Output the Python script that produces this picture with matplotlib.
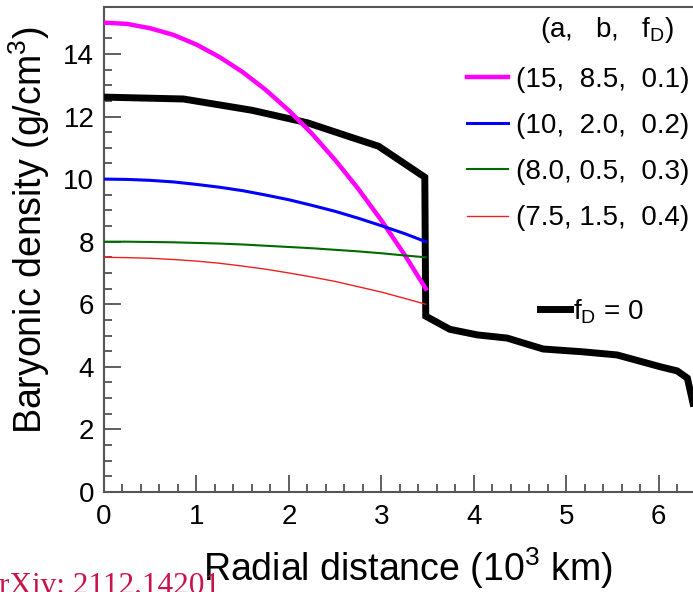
import matplotlib
matplotlib.use("Agg")
import matplotlib.pyplot as plt
from matplotlib.lines import Line2D
from matplotlib.ticker import MultipleLocator

plt.rcParams['font.family'] = ['Liberation Sans', 'DejaVu Sans']
plt.rcParams['mathtext.fontset'] = 'custom'
plt.rcParams['mathtext.rm'] = 'Liberation Sans'
plt.rcParams['mathtext.it'] = 'Liberation Sans'

# radius (10^3 km) for the dark-matter-admixed profiles, up to the core boundary
r_core = [0.0, 0.25, 0.5, 0.75, 1.0, 1.25, 1.5, 1.75, 2.0, 2.25, 2.5, 2.75, 3.0, 3.25, 3.48]
rho_magenta = [15.0, 14.96, 14.82, 14.61, 14.30, 13.90, 13.42, 12.85, 12.19, 11.45, 10.61, 9.69, 8.68, 7.59, 6.5]
rho_blue = [10.0, 9.99, 9.96, 9.91, 9.83, 9.74, 9.63, 9.49, 9.34, 9.16, 8.97, 8.75, 8.51, 8.26, 8.0]
rho_green = [8.0, 8.0, 7.99, 7.98, 7.96, 7.94, 7.91, 7.87, 7.83, 7.79, 7.74, 7.69, 7.63, 7.56, 7.5]
rho_red = [7.5, 7.49, 7.47, 7.43, 7.38, 7.31, 7.22, 7.12, 7.00, 6.87, 6.73, 6.56, 6.39, 6.19, 6.0]

labels = ['(15,  8.5,  0.1)', '(10,  2.0,  0.2)', '(8.0, 0.5,  0.3)', '(7.5, 1.5,  0.4)']
colors = ['#ff00ff', '#0000ff', '#006a00', '#ee2020']
widths = [3.2, 2.2, 1.5, 1.0]

# f_D = 0 profile (PREM-like)
r_prem = [0.0, 0.86, 1.6, 2.2, 2.66, 2.97, 3.47, 3.48, 3.74, 4.04, 4.36, 4.75, 5.18, 5.55, 6.02, 6.2, 6.31, 6.371]
rho_prem = [12.62, 12.56, 12.2, 11.8, 11.35, 11.05, 10.06, 5.62, 5.2, 5.02, 4.92, 4.57, 4.48, 4.38, 4.0, 3.87, 3.64, 2.84]

fig = plt.figure(figsize=(6.93, 5.92), dpi=100)
ax = fig.add_axes([104 / 693, 100 / 592, 589 / 693, 485 / 592])

ax.plot(r_prem, rho_prem, color='black', lw=5, solid_joinstyle='miter', zorder=3)
handles = []
for rho, c, w, lab in zip([rho_magenta, rho_blue, rho_green, rho_red], colors, widths, labels):
    h, = ax.plot(r_core, rho, color=c, lw=w, label=lab, zorder=4)
    handles.append(h)

ax.set_xlim(0, 6.371)
ax.set_ylim(0, 15.5)
ax.xaxis.set_major_locator(MultipleLocator(1))
ax.xaxis.set_minor_locator(MultipleLocator(0.2))
ax.yaxis.set_major_locator(MultipleLocator(2))
ax.yaxis.set_minor_locator(MultipleLocator(0.5))
ax.tick_params(which='both', direction='in', color='#444444', width=1.2, labelsize=20)
ax.tick_params(which='major', length=12)
ax.tick_params(which='minor', length=6)
ax.tick_params(axis='y', pad=7)
ax.tick_params(axis='x', pad=9)
for s in ['left', 'bottom', 'top']:
    ax.spines[s].set_color('#555555')
    ax.spines[s].set_linewidth(1.5)
ax.spines['right'].set_visible(False)

ax.set_ylabel('Baryonic density (g/cm$^3$)', fontsize=27)
ax.yaxis.set_label_coords(-0.088, 0.54)
ax.set_xlabel('Radial distance (10$^3$ km)', fontsize=27)
ax.xaxis.set_label_coords(0.516, -0.111)

leg = ax.legend(handles=handles, loc='upper left', bbox_to_anchor=(0.616, 0.877),
                frameon=False, fontsize=20, handlelength=1.47, handletextpad=0.29,
                labelspacing=0.73, borderpad=0, borderaxespad=0)
ax.add_artist(leg)
ax.text(0.740, 0.953, '(a,   b,   f$_\\mathregular{D}$)', transform=ax.transAxes,
        fontsize=20, va='center', ha='left')

blk = Line2D([], [], color='black', lw=5)
ax.legend(handles=[blk], labels=['f$_\\mathregular{D}$ = 0'], loc='upper left',
          bbox_to_anchor=(0.740, 0.402), frameon=False, fontsize=20, handlelength=1.08,
          handletextpad=0.1, borderpad=0, borderaxespad=0)

fig.text(220 / 693, -2 / 592, 'arXiv: 2112.14201', color='#c8144a', fontsize=22.5,
         family='Liberation Serif', ha='right', va='baseline')

fig.savefig('out.png', dpi=100)
